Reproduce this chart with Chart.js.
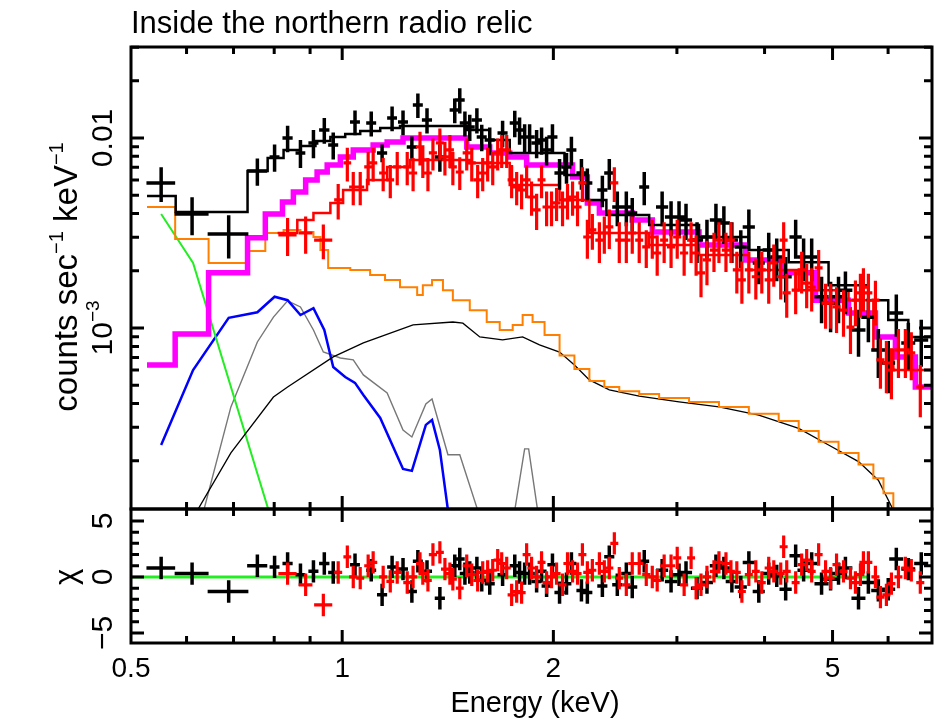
<!DOCTYPE html>
<html>
<head>
<meta charset="utf-8">
<script src="https://cdn.jsdelivr.net/npm/chart.js@4.4.1/dist/chart.umd.min.js"></script>
<style>
    html, body { margin: 0; padding: 0; background: #fff; }
    #wrap { position: relative; width: 936px; height: 720px; }
    canvas { position: absolute; left: 0; top: 0; }
</style>
</head>
<body>
<div id="wrap">
    <canvas id="spec" width="936" height="720"></canvas>
    <canvas id="resid" width="936" height="720"></canvas>
</div>
<script>
const $ = id => document.getElementById(id);
const FONT = '"Liberation Sans", Arial, Helvetica, sans-serif';

// black spectrum (keV, counts/s/keV)
const blackE = [0.552, 0.611, 0.689, 0.757, 0.801, 0.836, 0.872, 0.910, 0.943, 0.971, 1.043, 1.100, 1.140, 1.178, 1.221, 1.257, 1.282, 1.321, 1.378, 1.447, 1.471, 1.496, 1.520, 1.556, 1.581, 1.623, 1.693, 1.762, 1.790, 1.820, 1.850, 1.893, 1.924, 1.956, 1.994, 2.041, 2.088, 2.122, 2.193, 2.236, 2.349, 2.403, 2.467, 2.541, 2.591, 2.695, 2.858, 2.943, 3.021, 3.091, 3.205, 3.311, 3.410, 3.500, 3.593, 3.700, 3.799, 3.925, 4.055, 4.163, 4.287, 4.430, 4.547, 4.669, 4.823, 4.968, 5.099, 5.216, 5.445, 5.624, 5.811, 6.003, 6.164, 6.412, 6.690];
const blackDE = [0.026, 0.034, 0.046, 0.025, 0.013, 0.014, 0.014, 0.015, 0.016, 0.016, 0.017, 0.018, 0.019, 0.019, 0.020, 0.021, 0.021, 0.022, 0.023, 0.024, 0.024, 0.025, 0.025, 0.026, 0.026, 0.027, 0.028, 0.029, 0.030, 0.030, 0.031, 0.031, 0.032, 0.032, 0.033, 0.034, 0.034, 0.035, 0.036, 0.037, 0.039, 0.040, 0.041, 0.042, 0.043, 0.044, 0.057, 0.059, 0.060, 0.062, 0.064, 0.066, 0.068, 0.070, 0.072, 0.074, 0.076, 0.078, 0.081, 0.083, 0.086, 0.089, 0.091, 0.093, 0.111, 0.114, 0.117, 0.120, 0.125, 0.129, 0.134, 0.138, 0.142, 0.147, 0.154];
const blackRate = [0.0058, 0.00398, 0.00312, 0.0067, 0.00794, 0.01, 0.00834, 0.00941, 0.01102, 0.00919, 0.01214, 0.01199, 0.00834, 0.01274, 0.01214, 0.00897, 0.01492, 0.01244, 0.00794, 0.01404, 0.01585, 0.01199, 0.01143, 0.01244, 0.01012, 0.00976, 0.01062, 0.01199, 0.01102, 0.01012, 0.01012, 0.00941, 0.00976, 0.00865, 0.01012, 0.00654, 0.00704, 0.00865, 0.00654, 0.0058, 0.00532, 0.00654, 0.00433, 0.00433, 0.00403, 0.00552, 0.00433, 0.00384, 0.00384, 0.0037, 0.0029, 0.00301, 0.0037, 0.00357, 0.0029, 0.00267, 0.0034, 0.0022, 0.00257, 0.00236, 0.00186, 0.00301, 0.00236, 0.00236, 0.00146, 0.00135, 0.00146, 0.00158, 0.000976, 0.00114, 0.000766, 0.000654, 0.0012, 0.000834, 0.000865];
const blackErr = [0.0012, 0.0009, 0.0008, 0.0011, 0.0013, 0.0016, 0.0014, 0.0016, 0.0017, 0.0015, 0.0018, 0.0018, 0.0009, 0.0019, 0.0018, 0.0012, 0.0022, 0.0019, 0.0013, 0.0021, 0.0024, 0.0018, 0.0018, 0.0019, 0.0016, 0.0016, 0.0017, 0.0019, 0.0018, 0.0017, 0.0017, 0.0016, 0.0016, 0.0015, 0.0017, 0.0012, 0.0013, 0.0015, 0.0012, 0.0011, 0.0010, 0.0012, 0.0009, 0.0009, 0.0008, 0.0011, 0.0009, 0.0008, 0.0008, 0.0008, 0.0007, 0.0007, 0.0008, 0.0008, 0.0007, 0.0006, 0.0008, 0.0005, 0.0006, 0.0006, 0.0005, 0.0007, 0.0006, 0.0006, 0.0004, 0.0004, 0.0004, 0.0004, 0.00027, 0.0003, 0.00022, 0.0002, 0.0003, 0.00023, 0.00024];
const blackChi = [0.8, 0.3, -1.3, 1.0, 0.9, 1.2, 0.2, 0.5, 1.2, 0.4, 1.1, 0.6, -1.6, 0.9, 0.7, -1.3, 1.4, 0.5, -1.9, 1.0, 1.6, 0.3, 0.4, 0.8, -0.3, -0.6, 0.2, 1.0, 0.4, 0.3, 0.3, -0.4, 0.5, -0.8, 1.1, -1.4, -0.6, 1.2, -1.2, -1.4, -0.8, 1.8, -0.7, 0.3, -0.9, 1.4, 0.6, -0.4, 0.2, 0.4, -1.0, -0.5, 1.0, 0.8, -0.4, -0.9, 1.3, -1.3, 0.3, 0.1, -1.1, 1.9, 0.6, 1.2, -0.6, -0.2, 0.3, 0.8, -1.9, -0.5, -1.2, -1.1, 1.6, 0.7, 1.2];

// red spectrum
const redE = [0.836, 0.887, 0.940, 0.987, 1.017, 1.037, 1.061, 1.089, 1.107, 1.144, 1.171, 1.198, 1.238, 1.262, 1.291, 1.303, 1.325, 1.347, 1.378, 1.401, 1.424, 1.438, 1.471, 1.505, 1.530, 1.560, 1.586, 1.612, 1.639, 1.666, 1.688, 1.716, 1.744, 1.773, 1.802, 1.832, 1.862, 1.893, 1.924, 1.956, 1.988, 2.021, 2.061, 2.095, 2.130, 2.165, 2.200, 2.236, 2.273, 2.326, 2.364, 2.403, 2.443, 2.483, 2.541, 2.591, 2.651, 2.713, 2.767, 2.812, 2.877, 2.943, 3.003, 3.072, 3.143, 3.195, 3.247, 3.311, 3.388, 3.444, 3.524, 3.582, 3.652, 3.713, 3.799, 3.887, 3.964, 4.055, 4.123, 4.218, 4.259, 4.302, 4.430, 4.518, 4.593, 4.669, 4.777, 4.887, 4.968, 5.066, 5.183, 5.303, 5.390, 5.479, 5.533, 5.624, 5.756, 5.851, 5.967, 6.066, 6.207, 6.350, 6.475, 6.669];
const redDE = [0.025, 0.020, 0.028, 0.013, 0.013, 0.014, 0.014, 0.014, 0.015, 0.015, 0.015, 0.016, 0.016, 0.017, 0.017, 0.017, 0.017, 0.018, 0.018, 0.018, 0.019, 0.019, 0.019, 0.020, 0.020, 0.021, 0.021, 0.021, 0.022, 0.022, 0.022, 0.023, 0.023, 0.023, 0.024, 0.024, 0.025, 0.025, 0.025, 0.026, 0.026, 0.027, 0.027, 0.028, 0.028, 0.029, 0.029, 0.030, 0.030, 0.031, 0.031, 0.032, 0.032, 0.033, 0.034, 0.034, 0.035, 0.036, 0.037, 0.037, 0.038, 0.039, 0.040, 0.041, 0.041, 0.042, 0.043, 0.044, 0.045, 0.045, 0.047, 0.047, 0.048, 0.049, 0.050, 0.051, 0.052, 0.054, 0.054, 0.056, 0.056, 0.057, 0.058, 0.060, 0.061, 0.062, 0.063, 0.065, 0.066, 0.067, 0.068, 0.070, 0.071, 0.072, 0.073, 0.074, 0.076, 0.077, 0.079, 0.080, 0.082, 0.084, 0.085, 0.088];
const redRate = [0.00309, 0.00316, 0.0029, 0.00472, 0.00739, 0.00552, 0.00552, 0.00704, 0.00739, 0.00654, 0.00601, 0.00704, 0.00704, 0.00654, 0.00897, 0.00766, 0.00654, 0.00834, 0.00941, 0.00794, 0.00865, 0.00704, 0.00662, 0.00834, 0.00739, 0.00601, 0.00654, 0.00739, 0.00704, 0.00834, 0.00865, 0.00865, 0.00601, 0.00552, 0.00532, 0.00601, 0.00489, 0.00418, 0.00601, 0.00433, 0.00433, 0.00455, 0.00433, 0.00472, 0.00489, 0.00433, 0.0058, 0.00301, 0.00328, 0.0029, 0.00316, 0.0034, 0.0058, 0.0029, 0.0029, 0.00316, 0.0029, 0.00267, 0.00301, 0.00248, 0.0029, 0.00267, 0.00301, 0.00248, 0.0029, 0.00248, 0.00195, 0.00228, 0.00257, 0.0029, 0.00257, 0.0029, 0.00202, 0.00179, 0.00202, 0.00186, 0.00202, 0.00179, 0.0022, 0.00186, 0.0029, 0.00153, 0.00158, 0.00202, 0.00172, 0.00164, 0.00207, 0.00135, 0.00135, 0.00129, 0.00124, 0.00101, 0.0014, 0.00153, 0.00164, 0.00153, 0.0014, 0.000679, 0.000654, 0.000601, 0.000766, 0.000766, 0.00074, 0.000489];
const redErr = [0.0007, 0.0007, 0.0006, 0.0010, 0.0015, 0.0011, 0.0011, 0.0014, 0.0015, 0.0013, 0.0012, 0.0014, 0.0014, 0.0013, 0.0018, 0.0015, 0.0013, 0.0016, 0.0018, 0.0016, 0.0017, 0.0014, 0.0013, 0.0016, 0.0015, 0.0012, 0.0013, 0.0015, 0.0014, 0.0016, 0.0017, 0.0017, 0.0012, 0.0011, 0.0011, 0.0012, 0.0010, 0.0009, 0.0012, 0.0009, 0.0009, 0.0009, 0.0009, 0.0010, 0.0010, 0.0009, 0.0012, 0.0007, 0.0007, 0.0007, 0.0007, 0.0008, 0.0012, 0.0007, 0.0007, 0.0007, 0.0007, 0.0006, 0.0007, 0.0006, 0.0007, 0.0006, 0.0007, 0.0006, 0.0007, 0.0006, 0.0005, 0.0006, 0.0006, 0.0007, 0.0006, 0.0007, 0.0005, 0.00045, 0.0005, 0.00045, 0.0005, 0.00045, 0.00055, 0.00045, 0.0007, 0.0004, 0.0004, 0.0005, 0.00045, 0.00042, 0.0005, 0.00036, 0.00036, 0.00035, 0.00034, 0.00028, 0.00038, 0.0004, 0.00042, 0.0004, 0.00037, 0.0002, 0.0002, 0.00018, 0.00022, 0.00022, 0.00021, 0.00015];
const redChi = [0.3, -0.7, -2.5, 0.4, 1.8, 0.0, -0.1, 1.0, 1.3, 0.0, -0.4, 0.4, -0.5, 0.0, 1.2, 0.3, -0.3, 2.0, 2.2, 0.7, 0.3, -0.2, -1.0, 1.0, 0.2, -0.3, 0.4, 0.5, 0.6, 1.5, 1.2, 0.8, -1.6, -1.3, -1.4, 2.0, 0.8, 0.0, 1.3, -0.5, 0.0, 0.3, -0.7, 1.2, 0.5, 0.3, 2.0, 0.4, 0.6, 1.2, 0.5, 0.8, 3.0, -0.1, -0.7, 1.2, 1.2, 0.2, 0.0, -0.3, 1.0, 1.0, 1.7, -0.7, 1.7, -1.0, -0.7, 0.0, 0.5, 1.3, 1.2, 0.5, 0.4, -1.3, 0.2, 0.5, -0.5, 0.8, 0.5, 0.3, 2.7, 0.5, -0.5, 1.1, 1.5, 0.5, 2.0, 0.5, -0.1, 1.1, 0.5, -0.1, -0.5, 0.2, 1.3, 1.3, 0.0, -1.8, -1.6, -0.6, 0.0, 0.8, 0.6, -0.5];

// folded models (step histograms: bin start energy, value)
const blackModelE = [0.527, 0.579, 0.733, 0.783, 0.825, 0.872, 0.916, 0.962, 1.010, 1.061, 1.133, 1.209, 1.505, 1.623, 1.733, 2.074, 2.229, 2.380, 2.739, 3.226, 3.799, 4.330, 4.935, 5.624, 6.003, 6.412, 6.93];
const blackModelY = [0.00495, 0.00408, 0.0067, 0.00785, 0.00865, 0.00908, 0.00964, 0.01012, 0.0105, 0.01088, 0.01129, 0.01157, 0.01102, 0.00976, 0.00834, 0.00639, 0.00472, 0.00393, 0.00348, 0.00301, 0.00257, 0.00222, 0.00168, 0.0014, 0.0011, 0.000897, 0.000897];
const magentaE = [0.527, 0.578, 0.645, 0.733, 0.777, 0.822, 0.852, 0.887, 0.921, 0.952, 0.994, 1.037, 1.107, 1.159, 1.221, 1.505, 1.623, 1.733, 1.832, 2.130, 2.236, 2.326, 2.591, 2.767, 3.226, 3.761, 4.232, 4.730, 5.269, 5.756, 6.146, 6.561, 6.93];
const magentaY = [0.000639, 0.00093, 0.00195, 0.00298, 0.00398, 0.0046, 0.0052, 0.00601, 0.00662, 0.00721, 0.00794, 0.00865, 0.00919, 0.00953, 0.01, 0.00897, 0.00834, 0.00794, 0.00721, 0.00623, 0.00455, 0.00403, 0.0037, 0.0032, 0.00273, 0.00228, 0.00195, 0.0014, 0.0012, 0.000897, 0.000704, 0.000489, 0.000489];
const redModelE = [0.809, 0.863, 0.910, 0.962, 1.003, 1.085, 1.159, 1.250, 1.520, 1.733, 2.041, 2.251, 2.739, 3.226, 3.799, 4.474, 5.269, 5.717, 6.104, 6.93];
const redModelY = [0.00316, 0.0037, 0.00403, 0.00455, 0.00532, 0.00601, 0.00704, 0.00766, 0.00739, 0.00566, 0.00472, 0.00316, 0.00273, 0.00242, 0.00202, 0.00158, 0.0014, 0.000766, 0.000601, 0.000601];
const orangeE = [0.527, 0.578, 0.645, 0.733, 0.777, 0.825, 0.872, 0.910, 0.931, 0.955, 1.027, 1.096, 1.151, 1.209, 1.279, 1.303, 1.343, 1.392, 1.438, 1.520, 1.607, 1.677, 1.750, 1.808, 1.868, 1.943, 2.041, 2.143, 2.251, 2.364, 2.483, 2.651, 2.830, 3.122, 3.444, 3.799, 4.190, 4.474, 4.777, 5.099, 5.445, 5.717, 5.910, 6.104, 6.310, 6.93];
const orangeY = [0.00433, 0.00294, 0.0022, 0.00254, 0.00316, 0.00328, 0.0032, 0.00301, 0.00257, 0.00207, 0.00202, 0.0019, 0.00179, 0.00164, 0.00149, 0.00168, 0.00179, 0.00158, 0.0014, 0.00124, 0.001075, 0.000976, 0.001037, 0.00117, 0.001075, 0.000919, 0.000717, 0.000608, 0.000526, 0.000489, 0.000465, 0.000449, 0.000428, 0.000408, 0.000384, 0.000354, 0.000324, 0.000287, 0.000252, 0.00022, 0.000191, 0.000162, 0.000135, 0.0000976, 0.0000976, 0.0000976];

// model components (smooth)
const contE = [0.608, 0.622, 0.694, 0.798, 0.836, 0.971, 1.072, 1.262, 1.438, 1.486, 1.571, 1.693, 1.808, 1.911, 2.041, 2.143, 2.251, 2.403, 2.651, 3.021, 3.444, 3.925, 4.474, 4.935, 5.445, 5.811, 6.104, 6.310];
const contY = [0.0000865, 0.00011, 0.00022, 0.000433, 0.000489, 0.000704, 0.000834, 0.001037, 0.001075, 0.00106, 0.000897, 0.000865, 0.000897, 0.000814, 0.000747, 0.000639, 0.000533, 0.000472, 0.000438, 0.000408, 0.000384, 0.000348, 0.000296, 0.000242, 0.000198, 0.000158, 0.00011, 0.0000865];
const blueE = [0.552, 0.613, 0.689, 0.757, 0.801, 0.836, 0.872, 0.910, 0.943, 0.971, 1.010, 1.043, 1.072, 1.133, 1.221, 1.257, 1.316, 1.343, 1.378, 1.415, 1.433];
const blueY = [0.000242, 0.000601, 0.00113, 0.00121, 0.00146, 0.0014, 0.00117, 0.00127, 0.000976, 0.000623, 0.000552, 0.000514, 0.000444, 0.000336, 0.000181, 0.000177, 0.000309, 0.000328, 0.000228, 0.00011, 0.0000865];
const grayE = [0.625, 0.635, 0.694, 0.757, 0.798, 0.836, 0.872, 0.910, 0.940, 0.994, 1.037, 1.072, 1.159, 1.221, 1.257, 1.316, 1.343, 1.415, 1.471, 1.560, 1.581, 1.744, 1.762, 1.820, 1.844, 1.899, 1.918];
const grayY = [0.0000865, 0.00011, 0.000384, 0.000844, 0.00114, 0.00139, 0.00129, 0.000976, 0.000747, 0.000695, 0.000679, 0.000566, 0.000455, 0.00029, 0.000267, 0.000398, 0.000423, 0.000215, 0.000215, 0.00011, 0.0000865, 0.0000865, 0.00011, 0.000231, 0.000231, 0.00011, 0.0000865];
const greenE = [0.552, 0.613, 0.801];
const greenY = [0.00398, 0.0022, 0.0000865];
const zeroE = [0.5, 5.64];
const zeroChi = [0, 0];

// axes
const xMinorTicks = [0.6, 0.7, 0.8, 0.9, 3, 4, 6];
const xMajorTicks = [1, 2, 5];
const xLabelVals = [0.5, 1, 2, 5];
const xLabels = ['0.5', '1', '2', '5'];
const yMinorTicks = [2e-4, 3e-4, 4e-4, 5e-4, 6e-4, 7e-4, 8e-4, 9e-4, 2e-3, 3e-3, 4e-3, 5e-3, 6e-3, 7e-3, 8e-3, 9e-3, 2e-2, 3e-2];
const yMajorTicks = [1e-3, 1e-2];
const yLabels = [[['10', false], ['−3', true]], [['0.01', false]]];
const chiMinorTicks = [-4, -3, -2, -1, 1, 2, 3, 4];
const chiMajorTicks = [-5, 0, 5];
const chiLabels = ['−5', '0', '5'];

function xy(E, Y) {
    return E.map((e, i) => ({ x: e, y: Y[i] }));
}

function crosses(E, dE, Y, dY) {
    const pts = [];
    E.forEach((e, i) => {
        pts.push({ x: e - dE[i], y: Y[i] }, { x: e + dE[i], y: Y[i] }, { x: e, y: null });
        pts.push({ x: e, y: Y[i] - dY[i] }, { x: e, y: Y[i] + dY[i] }, { x: e, y: null });
    });
    return pts;
}

// 'before' in Chart.js: each bin keeps the previous point's value until the next edge
function line(data, color, width, order, stepped) {
    return {
        data, borderColor: color, borderWidth: width, order,
        stepped: stepped ? 'before' : false, tension: 0,
        pointRadius: 0, fill: false, spanGaps: false,
        borderCapStyle: 'butt', borderJoinStyle: 'miter'
    };
}

function rich(ctx, parts, size, x, y, rotate, align) {
    ctx.save();
    ctx.translate(x, y);
    if (rotate) ctx.rotate(-Math.PI / 2);
    ctx.textAlign = 'left';
    ctx.textBaseline = 'alphabetic';
    ctx.fillStyle = '#000';
    const fontFor = sup => (sup ? Math.round(size * 0.62) : size) + 'px ' + FONT;
    const widths = parts.map(([t, sup]) => { ctx.font = fontFor(sup); return ctx.measureText(t).width; });
    const total = widths.reduce((a, b) => a + b, 0);
    let cx = align === 'left' ? 0 : -total / 2;
    parts.forEach(([t, sup], i) => {
        ctx.font = fontFor(sup);
        ctx.fillText(t, cx, sup ? -size * 0.42 : 0);
        cx += widths[i];
    });
    ctx.restore();
}

function drawFrame(chart, yMinor, yMajor) {
    const { ctx, chartArea: a, scales: { x, y } } = chart;
    ctx.save();
    ctx.strokeStyle = '#000';
    ctx.lineWidth = 3;
    ctx.strokeRect(a.left, a.top, a.right - a.left, a.bottom - a.top);
    ctx.beginPath();
    xMinorTicks.concat(xMajorTicks).forEach(v => {
        const px = x.getPixelForValue(v), len = xMajorTicks.includes(v) ? 13 : 7;
        ctx.moveTo(px, a.top); ctx.lineTo(px, a.top + len);
        ctx.moveTo(px, a.bottom); ctx.lineTo(px, a.bottom - len);
    });
    yMinor.concat(yMajor).forEach(v => {
        const py = y.getPixelForValue(v), len = yMajor.includes(v) ? 13 : 8;
        ctx.moveTo(a.left, py); ctx.lineTo(a.left + len, py);
        ctx.moveTo(a.right, py); ctx.lineTo(a.right - len, py);
    });
    ctx.stroke();
    ctx.restore();
}

const specDecor = {
    id: 'specDecor',
    afterDraw(chart) {
        const { ctx, chartArea: a, scales: { y } } = chart;
        drawFrame(chart, yMinorTicks, yMajorTicks);
        yMajorTicks.forEach((v, i) => rich(ctx, yLabels[i], 30, 112, y.getPixelForValue(v), true));
        rich(ctx, [['counts sec', false], ['−1', true], [' keV', false], ['−1', true]], 33, 77, 277, true);
        rich(ctx, [['Inside the northern radio relic', false]], 31, a.left, 33, false, 'left');
    }
};

const residDecor = {
    id: 'residDecor',
    afterDraw(chart) {
        const { ctx, scales: { x, y } } = chart;
        drawFrame(chart, chiMinorTicks, chiMajorTicks);
        chiMajorTicks.forEach((v, i) => rich(ctx, [[chiLabels[i], false]], 30, 112, y.getPixelForValue(v), true));
        rich(ctx, [['χ', false]], 31, 76, y.getPixelForValue(0), true);
        xLabelVals.forEach((v, i) => rich(ctx, [[xLabels[i], false]], 28, x.getPixelForValue(v), 677));
        rich(ctx, [['Energy (keV)', false]], 29, 535, 712);
    }
};

const baseOptions = (pad, yScale) => ({
    responsive: false,
    devicePixelRatio: 1,
    animation: false,
    events: [],
    layout: { padding: pad },
    plugins: { legend: { display: false }, tooltip: { enabled: false } },
    scales: {
        x: { type: 'logarithmic', min: 0.5, max: 6.93, display: false },
        y: Object.assign({ display: false }, yScale)
    }
});

new Chart($('spec').getContext('2d'), {
    type: 'line',
    data: {
        datasets: [
            line(crosses(redE, redDE, redRate, redErr), '#ff0000', 3.2, 0),
            line(crosses(blackE, blackDE, blackRate, blackErr), '#000000', 3.5, 1),
            line(xy(redModelE, redModelY), '#ff0000', 2.5, 2, true),
            line(xy(blackModelE, blackModelY), '#000000', 2.5, 3, true),
            line(xy(magentaE, magentaY), '#ff00ff', 5.5, 4, true),
            line(xy(orangeE, orangeY), '#ff8000', 2, 5, true),
            line(xy(contE, contY), '#000000', 1.3, 6),
            line(xy(greenE, greenY), '#22ee22', 2, 7),
            line(xy(blueE, blueY), '#0000ff', 2.5, 8),
            line(xy(grayE, grayY), '#777777', 1.4, 9)
        ]
    },
    options: baseOptions({ left: 131, top: 47, right: 4, bottom: 211 },
        { type: 'logarithmic', min: 1.115e-4, max: 0.0301 }),
    plugins: [specDecor]
});

new Chart($('resid').getContext('2d'), {
    type: 'line',
    data: {
        datasets: [
            line(crosses(redE, redDE, redChi, redChi.map(() => 1)), '#ff0000', 3.2, 0),
            line(crosses(blackE, blackDE, blackChi, blackChi.map(() => 1)), '#000000', 3.5, 1),
            line(xy(zeroE, zeroChi), '#22ee22', 3, 2)
        ]
    },
    options: baseOptions({ left: 131, top: 509, right: 4, bottom: 77 },
        { type: 'linear', min: -5.9, max: 6.07 }),
    plugins: [residDecor]
});
</script>
</body>
</html>
